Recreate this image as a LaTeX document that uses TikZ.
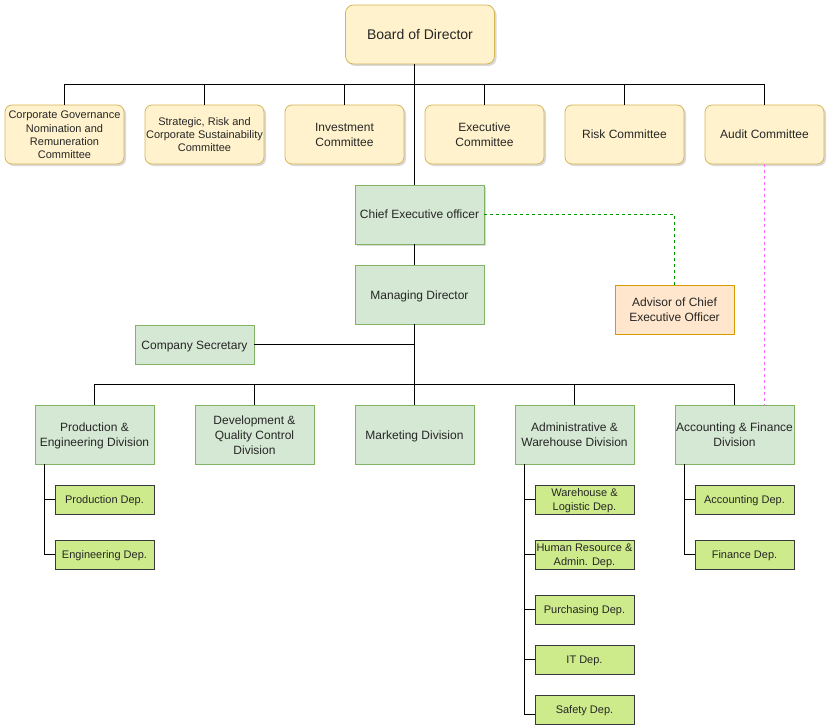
\documentclass[tikz,border=0pt]{standalone}
\usepackage{fontspec}
\setmainfont{Liberation Sans}
\usetikzlibrary{shadows}
\definecolor{yfill}{HTML}{FFF2CC}
\definecolor{ydraw}{HTML}{D6B656}
\definecolor{gfill}{HTML}{D5E8D4}
\definecolor{gdraw}{HTML}{82B366}
\definecolor{lfill}{HTML}{CDEB8B}
\definecolor{ldraw}{HTML}{36393D}
\definecolor{ofill}{HTML}{FFE6CC}
\definecolor{odraw}{HTML}{D79B00}
\definecolor{dgreen}{HTML}{009900}
\definecolor{pink}{HTML}{FF66FF}
\newcommand{\tx}[1]{\raisebox{-1.5pt}[\height][\depth]{\begin{tabular}{@{}c@{}}#1\end{tabular}}}
\tikzset{
  shad/.style={drop shadow={shadow xshift=2pt,shadow yshift=-2pt,opacity=0.25,fill=black!60}},
  box/.style={draw, line width=0.8pt, align=center, inner sep=0pt, font=\fontsize{12}{15}\selectfont, text=black!85},
  ybox/.style={box, fill=yfill, draw=ydraw, rounded corners=7pt, minimum width=119pt, minimum height=59pt, shad},
  gbox/.style={box, fill=gfill, draw=gdraw, minimum width=119pt, minimum height=59pt},
  lbox/.style={box, fill=lfill, draw=ldraw, minimum width=99pt, minimum height=29pt, font=\fontsize{11}{14}\selectfont},
  link/.style={line width=0.8pt, black},
}
\begin{document}
\begin{tikzpicture}[x=1pt,y=-1pt]
\useasboundingbox (0,0) rectangle (831,725);
% board
\node[ybox, minimum width=149pt, rounded corners=8pt, font=\fontsize{14}{16}\selectfont] (board) at (420,34.5) {\tx{Board of Director}};
% committees
\node[ybox, font=\fontsize{11}{13.3}\selectfont] (c1) at (64.5,134.5) {\tx{Corporate Governance\\Nomination and\\Remuneration\\Committee}};
\node[ybox, font=\fontsize{11}{13.3}\selectfont] (c2) at (204.5,134.5) {\tx{Strategic, Risk and\\Corporate Sustainability\\Committee}};
\node[ybox] (c3) at (344.5,134.5) {\tx{Investment\\Committee}};
\node[ybox] (c4) at (484.5,134.5) {\tx{Executive\\Committee}};
\node[ybox] (c5) at (624.5,134.5) {\tx{Risk Committee}};
\node[ybox] (c6) at (764.5,134.5) {\tx{Audit Committee}};
% CEO etc
\node[gbox, minimum width=129pt, shad] (ceo) at (419.5,214.5) {\tx{Chief Executive officer}};
\node[gbox, minimum width=129pt] (md) at (419.5,294.5) {\tx{Managing Director}};
\node[gbox, minimum height=39pt] (sec) at (194.5,344.5) {\tx{Company Secretary}};
\node[box, fill=ofill, draw=odraw, minimum width=119pt, minimum height=49pt] (adv) at (674.5,309.5) {\tx{Advisor of Chief\\Executive Officer}};
% divisions
\node[gbox] (d1) at (94.5,434.5) {\tx{Production \&\\Engineering Division}};
\node[gbox] (d2) at (254.5,434.5) {\tx{Development \&\\Quality Control\\Division}};
\node[gbox] (d3) at (414.5,434.5) {\tx{Marketing Division}};
\node[gbox] (d4) at (574.5,434.5) {\tx{Administrative \&\\Warehouse Division}};
\node[gbox] (d5) at (734.5,434.5) {\tx{Accounting \& Finance\\Division}};
% departments
\node[lbox] (p1) at (104.5,499.5) {\tx{Production Dep.}};
\node[lbox] (p2) at (104.5,554.5) {\tx{Engineering Dep.}};
\node[lbox] (a1) at (584.5,499.5) {\tx{Warehouse \&\\Logistic Dep.}};
\node[lbox] (a2) at (584.5,554.5) {\tx{Human Resource \&\\Admin. Dep.}};
\node[lbox] (a3) at (584.5,609.5) {\tx{Purchasing Dep.}};
\node[lbox] (a4) at (584.5,659.5) {\tx{IT Dep.}};
\node[lbox] (a5) at (584.5,709.5) {\tx{Safety Dep.}};
\node[lbox] (f1) at (744.5,499.5) {\tx{Accounting Dep.}};
\node[lbox] (f2) at (744.5,554.5) {\tx{Finance Dep.}};
% connectors
\coordinate (bus) at (414,84);
\draw[link] (board.south -| bus) -- (ceo.north -| bus);
\foreach \c in {c1,c2,c3,c4,c5,c6}{
  \draw[link] (bus) -| (\c.north);
}
\draw[link] (ceo.south -| bus) -- (md.north -| bus);
\coordinate (dbus) at (414,384);
\draw[link] (md.south -| bus) -- (dbus);
\draw[link] (sec.east) -- (sec.east -| bus);
\foreach \d in {d1,d2,d3,d4,d5}{
  \draw[link] (dbus) -| (\d.north);
}
\draw[dgreen, dashed, line width=0.6pt] (ceo.east) -| (adv.north);
\draw[pink, dashed, line width=0.8pt] (c6.south) -- (c6.south |- d5.north);
% sub trees
\coordinate (pv) at (44,464);
\draw[link] (d1.south -| pv) |- (p2.west);
\draw[link] (pv |- p1.west) -- (p1.west);
\coordinate (av) at (524,464);
\draw[link] (d4.south -| av) -- (av |- 714,714) -- (a5.west |- 0,714);
\foreach \a in {a1,a2,a3,a4}{ \draw[link] (av |- \a.west) -- (\a.west); }
\coordinate (fv) at (684,464);
\draw[link] (d5.south -| fv) |- (f2.west);
\draw[link] (fv |- f1.west) -- (f1.west);
\end{tikzpicture}
\end{document}
